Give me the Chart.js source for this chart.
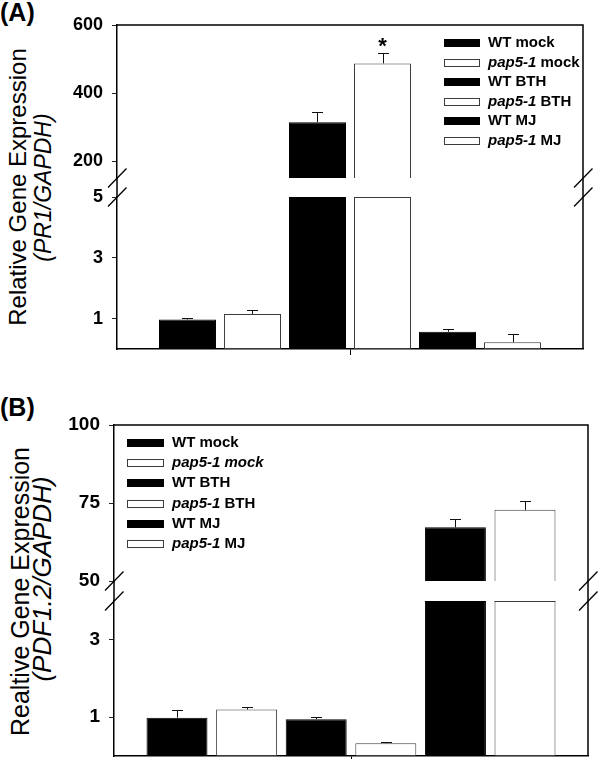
<!DOCTYPE html>
<html>
<head>
<meta charset="utf-8">
<script src="https://cdn.jsdelivr.net/npm/chart.js@4/dist/chart.umd.min.js"></script>
<style>
html,body{margin:0;padding:0;background:#fff;}
#wrap{position:relative;width:600px;height:759px;overflow:hidden;font-family:"Liberation Sans",Arial,Helvetica,sans-serif;background:#fff;}
canvas{position:absolute;left:0;}
.lbl{position:absolute;font-weight:bold;color:#000;line-height:1;white-space:nowrap;}
.yt{position:absolute;width:320px;white-space:nowrap;text-align:center;color:#000;transform:rotate(-90deg);transform-origin:50% 50%;}
</style>
</head>
<body>
<div id="wrap">
  <div class="lbl" style="left:0;top:0;font-size:25px">(A)</div>
  <div class="lbl" style="left:0;top:395px;font-size:25px">(B)</div>
  <div class="yt" style="font-size:24px;line-height:24px;height:24px;left:-142px;top:175px;">Relative Gene Expression</div>
  <div class="yt" style="font-size:23px;line-height:23px;height:23px;left:-117px;top:175.5px;font-style:italic;">(PR1/GAPDH)</div>
  <div class="yt" style="font-size:25px;line-height:25px;height:25px;left:-140.5px;top:578.5px;">Realtive Gene Expression</div>
  <div class="yt" style="font-size:26px;line-height:26px;height:26px;left:-118.5px;top:566px;font-style:italic;">(PDF1.2/GAPDH)</div>
  <canvas id="cA1" width="600" height="190" style="top:0px"></canvas>
  <canvas id="cA2" width="600" height="200" style="top:160px"></canvas>
  <canvas id="cB1" width="600" height="215" style="top:380px"></canvas>
  <canvas id="cB2" width="600" height="199" style="top:560px"></canvas>
</div>
<script>
// ---------- data ----------
const categories = [''];
const seriesLabels = ['WT mock', 'pap5-1 mock', 'WT BTH', 'pap5-1 BTH', 'WT MJ', 'pap5-1 MJ'];

// Panel A: PR1/GAPDH
const pr1Values = [0.97, 1.15, 314, 487, 0.57, 0.22];
const pr1Errors = [0.05, 0.12, 29, 31, 0.08, 0.27];
const pr1Marks = ['', '', '', '*', '', ''];
const pr1UpperTicks = [200, 400, 600];
const pr1LowerTicks = [1, 3, 5];
const pr1ItalicPart = ['', 'pap5-1', '', 'pap5-1', '', 'pap5-1'];

// Panel B: PDF1.2/GAPDH
const pdfValues = [0.99, 1.2, 0.95, 0.33, 67.2, 72.8];
const pdfErrors = [0.19, 0.06, 0.06, 0.03, 2.6, 2.9];
const pdfMarks = ['', '', '', '', '', ''];
const pdfUpperTicks = [50, 75, 100];
const pdfLowerTicks = [1, 3];
const pdfItalicPart = ['', 'pap5-1 mock', '', 'pap5-1', '', 'pap5-1'];

// ---------- styles ----------
const FONT = '"Liberation Sans", Arial, Helvetica, sans-serif';
const fills = ['#000000', '#ffffff', '#000000', '#ffffff', '#000000', '#ffffff'];
const edges = ['#000000', '#3c3c3c', '#000000', '#3c3c3c', '#000000', '#3c3c3c'];

const segPlugin = {
  id: 'seg',
  afterDatasetsDraw(chart, args, o) {
    const ctx = chart.ctx, ca = chart.chartArea, y = chart.scales.y;
    ctx.save();
    ctx.beginPath();
    ctx.rect(ca.left, ca.top, ca.right - ca.left, ca.bottom - ca.top);
    ctx.clip();
    chart.data.datasets.forEach((ds, i) => {
      const bar = chart.getDatasetMeta(i).data[0];
      const v = ds.data[0];
      const err = o.errors[i];
      const half = bar.width / 2;
      const bx = Math.round(bar.x) + 0.5;
      if (v >= y.min && v <= y.max) {
        const y0 = y.getPixelForValue(v), y1 = Math.round(y.getPixelForValue(v + err)) + 0.5;
        ctx.strokeStyle = '#111';
        ctx.lineWidth = 1;
        ctx.beginPath();
        ctx.moveTo(bx, y0); ctx.lineTo(bx, y1);
        ctx.moveTo(bx - 5.5, y1); ctx.lineTo(bx + 5.5, y1);
        ctx.stroke();
        if (o.marks[i]) {
          ctx.font = 'bold 22px ' + FONT;
          ctx.textAlign = 'center';
          ctx.textBaseline = 'alphabetic';
          ctx.fillStyle = '#000';
          ctx.fillText(o.marks[i], bar.x, y1 - 1);
        }
      }
      if (!o.upper && v > y.max) {
        ctx.strokeStyle = ds.borderColor;
        ctx.lineWidth = 1;
        ctx.beginPath();
        ctx.moveTo(bar.x - half, ca.top + 0.5);
        ctx.lineTo(bar.x + half, ca.top + 0.5);
        ctx.stroke();
      }
    });
    ctx.restore();
  },
  afterDraw(chart, args, o) {
    const ctx = chart.ctx, ca = chart.chartArea;
    ctx.save();
    ctx.strokeStyle = '#000';
    ctx.lineWidth = 1.5;
    ctx.beginPath();
    ctx.moveTo(ca.right, ca.top - (o.upper ? 0.75 : 0)); ctx.lineTo(ca.right, ca.bottom);
    if (o.upper) {
      ctx.moveTo(ca.left, ca.top); ctx.lineTo(ca.right, ca.top);
    } else {
      ctx.moveTo(ca.left, ca.top - o.gap); ctx.lineTo(ca.left, ca.top);
      ctx.moveTo(ca.right, ca.top - o.gap); ctx.lineTo(ca.right, ca.top);
    }
    ctx.stroke();
    if (!o.upper) {
      ctx.lineWidth = 1.3;
      [ca.left, ca.right].forEach(x => {
        [ca.top - o.gap, ca.top].forEach(yc => {
          ctx.beginPath();
          ctx.moveTo(x - 9, yc + 9.5);
          ctx.lineTo(x + 9.5, yc - 9.5);
          ctx.stroke();
        });
      });
    }
    if (o.legend) {
      const L = o.legend;
      ctx.textBaseline = 'middle';
      ctx.textAlign = 'left';
      chart.data.datasets.forEach((ds, i) => {
        const yc = Math.round(ca.top + L.dy + i * L.rowH);
        const bx = Math.round(ca.left + L.dx);
        ctx.fillStyle = ds.backgroundColor;
        ctx.fillRect(bx, yc - 4, L.boxW, 8);
        ctx.lineWidth = 1;
        ctx.strokeStyle = ds.borderColor;
        ctx.strokeRect(bx + 0.5, yc - 3.5, L.boxW - 1, 7);
        let tx = bx + L.textDx;
        const it = o.italic[i];
        ctx.fillStyle = '#000';
        if (it) {
          ctx.font = 'italic bold ' + L.size + 'px ' + FONT;
          ctx.fillText(it, tx, yc);
          tx += ctx.measureText(it).width;
        }
        ctx.font = 'bold ' + L.size + 'px ' + FONT;
        ctx.fillText(ds.label.slice(it.length), tx, yc);
      });
    }
    ctx.restore();
  }
};

function makeSegment(id, s) {
  const datasets = seriesLabels.map((lab, i) => ({
    label: lab,
    data: [s.values[i]],
    backgroundColor: fills[i],
    borderColor: edges[i],
    borderWidth: 1,
    borderSkipped: false,
    clip: 0,
    categoryPercentage: s.catPct,
    barPercentage: s.barPct
  }));
  return new Chart(document.getElementById(id), {
    type: 'bar',
    data: { labels: categories, datasets },
    options: {
      responsive: false,
      animation: false,
      events: [],
      layout: { padding: s.pad },
      plugins: {
        legend: { display: false },
        tooltip: { enabled: false },
        seg: {
          upper: s.upper, errors: s.errors, marks: s.marks, italic: s.italic,
          gap: s.gap, legend: s.legend || null
        }
      },
      scales: {
        x: {
          type: 'category',
          display: !s.upper,
          offset: true,
          ticks: { display: false },
          grid: { display: true, drawOnChartArea: false, offset: false, tickLength: 6, color: '#000', lineWidth: 1 },
          border: { display: true, color: '#000', width: 1.5 },
          afterFit(sc) { sc.height = s.xHeight; sc.paddingLeft = 0; sc.paddingRight = 0; }
        },
        y: {
          type: 'linear',
          min: s.yMin,
          max: s.yMax,
          stacked: false,
          afterBuildTicks(sc) { sc.ticks = s.ticks.map(v => ({ value: v })); },
          ticks: {
            color: '#000',
            padding: 9,
            autoSkip: false,
            font: { family: FONT, size: s.tickSize, weight: 'bold' }
          },
          grid: { display: true, drawOnChartArea: false, tickLength: 5, color: '#222', lineWidth: 1 },
          border: { display: true, color: '#000', width: 1.5 },
          afterFit(sc) { sc.width = s.yWidth; sc.paddingTop = 0; sc.paddingBottom = 0; }
        }
      }
    },
    plugins: [segPlugin]
  });
}

// Panel A
makeSegment('cA1', {
  upper: true, values: pr1Values, errors: pr1Errors, marks: pr1Marks, italic: pr1ItalicPart,
  yMin: 150, yMax: 600, ticks: pr1UpperTicks, tickSize: 18,
  pad: { top: 25, right: 17, bottom: 12, left: 0 }, yWidth: 117, xHeight: 0, gap: 19,
  catPct: 0.837, barPct: 0.877,
  legend: { dx: 327, dy: 18, rowH: 19.6, boxW: 36, textDx: 44, size: 15 }
});
makeSegment('cA2', {
  upper: false, values: pr1Values, errors: pr1Errors, marks: pr1Marks, italic: pr1ItalicPart,
  yMin: 0, yMax: 5, ticks: pr1LowerTicks, tickSize: 18,
  pad: { top: 37, right: 17, bottom: 1, left: 0 }, yWidth: 117, xHeight: 10, gap: 19,
  catPct: 0.837, barPct: 0.877
});
// Panel B
makeSegment('cB1', {
  upper: true, values: pdfValues, errors: pdfErrors, marks: pdfMarks, italic: pdfItalicPart,
  yMin: 50, yMax: 100, ticks: pdfUpperTicks, tickSize: 19,
  pad: { top: 45, right: 12, bottom: 14, left: 0 }, yWidth: 114, xHeight: 0, gap: 20,
  catPct: 0.881, barPct: 0.876,
  legend: { dx: 13, dy: 18, rowH: 20.2, boxW: 37, textDx: 45, size: 15 }
});
makeSegment('cB2', {
  upper: false, values: pdfValues, errors: pdfErrors, marks: pdfMarks, italic: pdfItalicPart,
  yMin: 0, yMax: 4, ticks: pdfLowerTicks, tickSize: 19,
  pad: { top: 41, right: 12, bottom: 0, left: 0 }, yWidth: 114, xHeight: 3, gap: 20,
  catPct: 0.881, barPct: 0.876
});
</script>
</body>
</html>
